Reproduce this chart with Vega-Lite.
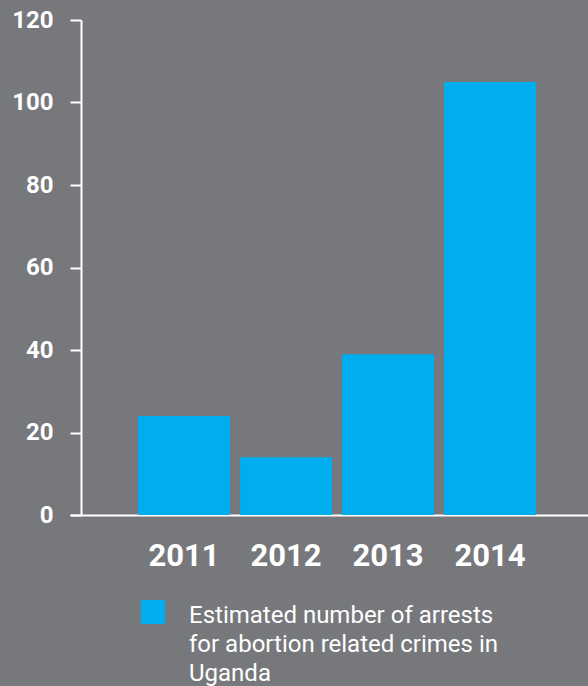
{
  "$schema": "https://vega.github.io/schema/vega-lite/v6.json",
  "width": 518,
  "height": 495,
  "autosize": {"type": "none"},
  "padding": {"left": 70, "top": 20, "right": 0, "bottom": 171},
  "background": "#77787c",
  "config": {
    "view": {"stroke": null},
    "font": "Roboto"
  },
  "data": {
    "values": [
      {"year": "2011", "arrests": 24, "series": "Estimated number of arrests for abortion related crimes in Uganda"},
      {"year": "2012", "arrests": 14, "series": "Estimated number of arrests for abortion related crimes in Uganda"},
      {"year": "2013", "arrests": 39, "series": "Estimated number of arrests for abortion related crimes in Uganda"},
      {"year": "2014", "arrests": 105, "series": "Estimated number of arrests for abortion related crimes in Uganda"}
    ]
  },
  "mark": {"type": "bar"},
  "encoding": {
    "x": {
      "field": "year",
      "type": "nominal",
      "scale": {"paddingInner": 0.098, "paddingOuter": 0.588, "align": 0.567},
      "axis": {
        "title": null,
        "labelAngle": 0,
        "labelFont": "Roboto",
        "labelFontSize": 31,
        "labelFontWeight": "bold",
        "labelColor": "#ffffff",
        "labelBaseline": "alphabetic",
        "labelPadding": 50,
        "ticks": false,
        "tickSize": 0,
        "domainColor": "#ffffff",
        "domainWidth": 2
      }
    },
    "y": {
      "field": "arrests",
      "type": "quantitative",
      "scale": {"domain": [0, 120], "nice": false},
      "axis": {
        "title": null,
        "values": [0, 20, 40, 60, 80, 100, 120],
        "grid": false,
        "offset": -11,
        "tickSize": 11,
        "tickWidth": 2,
        "tickColor": "#ffffff",
        "domainColor": "#ffffff",
        "domainWidth": 2,
        "labelFont": "Roboto",
        "labelFontSize": 24,
        "labelFontWeight": "bold",
        "labelColor": "#ffffff",
        "labelPadding": 17
      }
    },
    "color": {
      "field": "series",
      "type": "nominal",
      "scale": {"range": ["#00adee"]},
      "legend": {
        "title": null,
        "orient": "none",
        "legendX": 71,
        "legendY": 580,
        "padding": 0,
        "symbolType": "square",
        "symbolSize": 576,
        "symbolStrokeWidth": 0,
        "symbolOpacity": 1,
        "labelFont": "Roboto",
        "labelFontSize": 24,
        "labelColor": "#ffffff",
        "labelOffset": 24,
        "labelLimit": 500,
        "labelExpr": "['Estimated number of arrests', 'for abortion related crimes in', 'Uganda']",
        "encode": {
          "labels": {"update": {"lineHeight": {"value": 29}, "dy": {"value": 4}}}
        }
      }
    }
  }
}
